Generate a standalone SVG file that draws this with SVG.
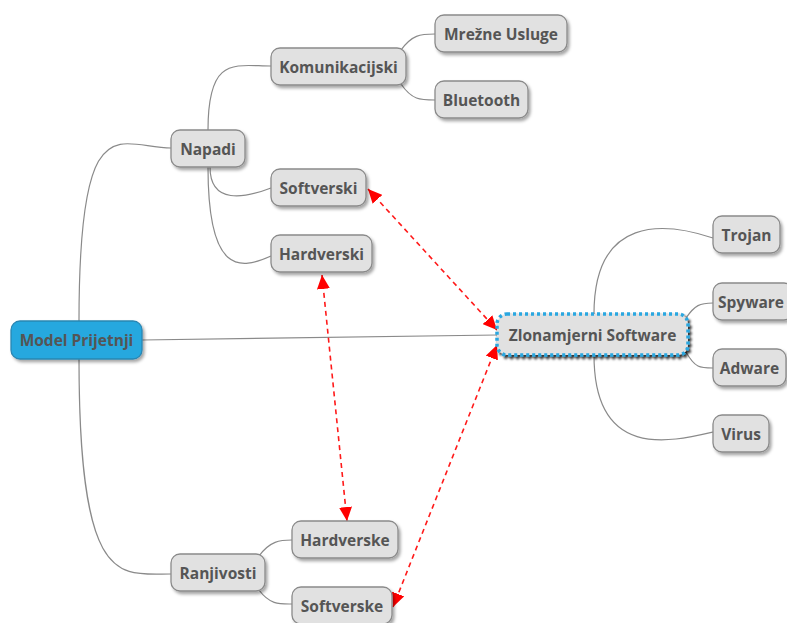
<svg xmlns="http://www.w3.org/2000/svg" width="787" height="623" viewBox="0 0 787 623">
<defs>
<style>
.n rect{fill:#e1e1e1;stroke:#8a8a8a;stroke-width:1.3;filter:url(#sh)}
.n text{font-family:"Open Sans","DejaVu Sans",sans-serif;font-weight:bold;font-size:15.5px;fill:#555;text-anchor:middle;dominant-baseline:central}
.c path{fill:none;stroke:#8a8a8a;stroke-width:1.2}
.a path{fill:none;stroke:#ff1a1a;stroke-width:1.6;stroke-dasharray:5 4;marker-start:url(#ar);marker-end:url(#ar)}
</style>
<filter id="sh" x="-20%" y="-30%" width="140%" height="170%">
<feDropShadow dx="2" dy="2.5" stdDeviation="1.5" flood-color="#000" flood-opacity="0.35"/>
</filter>
<filter id="sh2" x="-20%" y="-30%" width="140%" height="170%">
<feDropShadow dx="2" dy="2.5" stdDeviation="1" flood-color="#000" flood-opacity="0.8"/>
</filter>
<marker id="ar" markerUnits="userSpaceOnUse" markerWidth="15" markerHeight="13" refX="14" refY="6.5" orient="auto-start-reverse">
<path d="M0,0 L14,6.5 L0,13 z" fill="#ff0000"/>
</marker>
</defs>
<rect width="787" height="623" fill="#fff"/>
<g id="connectors">
<g class="c">
<path d="M79,321 C79,100 120,148 171,148"/>
<path d="M79,359 C79,590 120,574 171,574"/>
<path d="M142,340 L497,335"/>
<path d="M208,130 C208,55 235,66 271,66"/>
<path d="M210,167 C210,205 245,198 271,188"/>
<path d="M208,167 C208,275 240,270 271,256"/>
<path d="M401,50 C412,35 420,34 435,34"/>
<path d="M401,84 C412,100 420,100 435,100"/>
<path d="M594,314 C594,215 665,222 713,238"/>
<path d="M686,318 C695,305 700,303 713,303"/>
<path d="M686,352 C695,368 700,368 713,368"/>
<path d="M594,355 C594,460 670,442 713,432"/>
<path d="M259,556 C270,541 280,540 292,540"/>
<path d="M259,590 C270,605 280,604 292,604"/>
</g>
<g class="a">
<path d="M368,189 L497,330"/>
<path d="M322,275 L347,521"/>
<path d="M497,345 L393,607"/>
</g>
</g>
<g id="model-prijetnji" class="n"><rect x="11" y="321" width="131" height="38" rx="9" style="fill:#27a8df;stroke:#2a86b3"/><text x="76.5" y="340">Model Prijetnji</text></g>
<g id="napadi" class="n"><rect x="171" y="130" width="74" height="37" rx="9"/><text x="208" y="148.5">Napadi</text></g>
<g id="komunikacijski" class="n"><rect x="271" y="48" width="135" height="37" rx="9"/><text x="338.5" y="66.5">Komunikacijski</text></g>
<g id="mrezne-usluge" class="n"><rect x="435" y="15" width="132" height="37" rx="9"/><text x="501" y="33.5">Mrežne Usluge</text></g>
<g id="bluetooth" class="n"><rect x="435" y="81" width="93" height="37" rx="9"/><text x="481.5" y="99.5">Bluetooth</text></g>
<g id="softverski" class="n"><rect x="271" y="169" width="95" height="37" rx="9"/><text x="318.5" y="187.5">Softverski</text></g>
<g id="hardverski" class="n"><rect x="271" y="235" width="101" height="37" rx="9"/><text x="321.5" y="253.5">Hardverski</text></g>
<g id="zlonamjerni-software" class="n"><rect x="497" y="314" width="191" height="41" rx="10" style="stroke:#2aa7e0;stroke-width:3.5;stroke-dasharray:3 3;filter:url(#sh2)"/><text x="592.5" y="334.5">Zlonamjerni Software</text></g>
<g id="trojan" class="n"><rect x="713" y="216" width="67" height="37" rx="9"/><text x="746.5" y="234.5">Trojan</text></g>
<g id="spyware" class="n"><rect x="713" y="283" width="80" height="37" rx="9"/><text x="751" y="301.5">Spyware</text></g>
<g id="adware" class="n"><rect x="713" y="349" width="73" height="37" rx="9"/><text x="749.5" y="367.5">Adware</text></g>
<g id="virus" class="n"><rect x="713" y="415" width="56" height="37" rx="9"/><text x="741" y="433.5">Virus</text></g>
<g id="ranjivosti" class="n"><rect x="171" y="554" width="94" height="37" rx="9"/><text x="218" y="572.5">Ranjivosti</text></g>
<g id="hardverske" class="n"><rect x="292" y="521" width="106" height="37" rx="9"/><text x="345" y="539.5">Hardverske</text></g>
<g id="softverske" class="n"><rect x="292" y="587" width="100" height="37" rx="9"/><text x="342" y="605.5">Softverske</text></g>
</svg>
